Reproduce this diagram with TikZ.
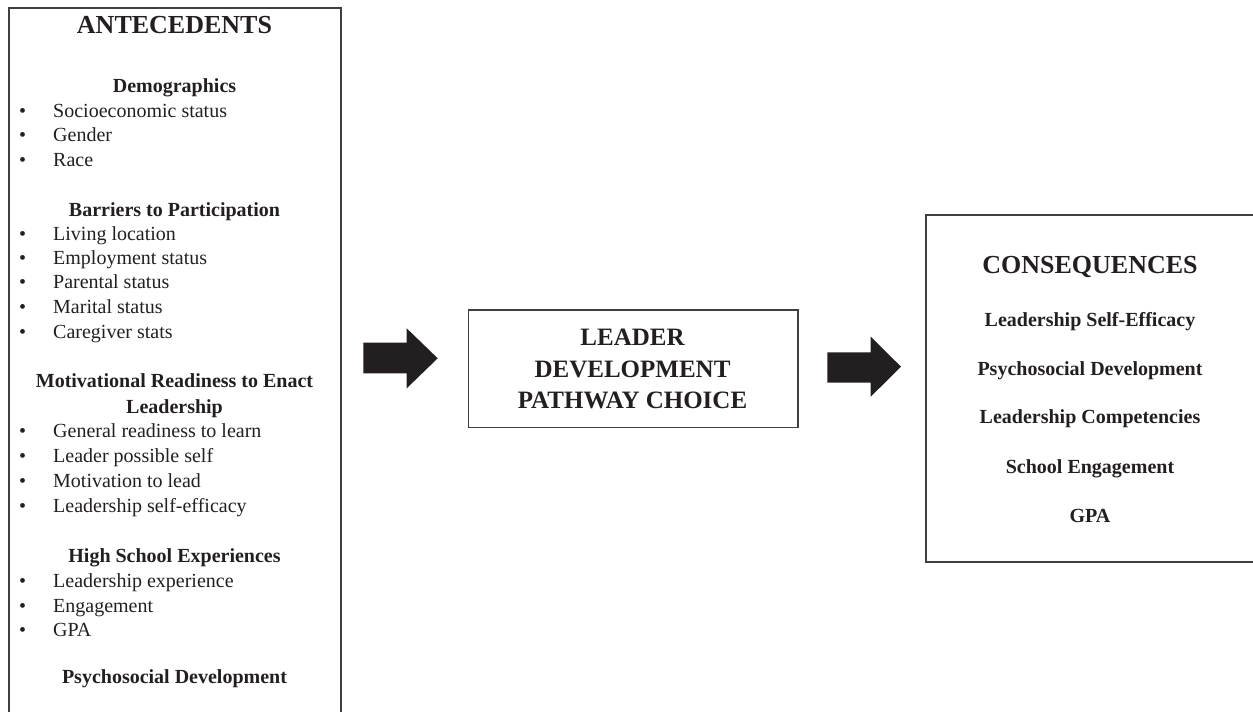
\documentclass[tikz,border=0pt]{standalone}
\usepackage{fontspec}
\setmainfont{Liberation Serif}
\definecolor{ink}{HTML}{231F20}
\definecolor{edge}{HTML}{404040}
\tikzset{
  box/.style={draw=edge, line width=1.6pt, rectangle, inner sep=0pt, anchor=north west},
  bigtitle/.style={font=\fontsize{26}{30}\selectfont\bfseries, text=ink, anchor=base, inner sep=0pt},
  midtitle/.style={font=\fontsize{25}{30}\selectfont\bfseries, text=ink, anchor=base, inner sep=0pt},
  subhead/.style={font=\fontsize{20}{24}\selectfont\bfseries, text=ink, anchor=base, inner sep=0pt},
  item/.style={font=\fontsize{20}{24}\selectfont, text=ink, anchor=base west, inner sep=0pt},
  bul/.style={font=\fontsize{20}{24}\selectfont, text=ink, anchor=base, inner sep=0pt},
  blockarrow/.style={fill=ink, draw=none},
}
\begin{document}
\begin{tikzpicture}[x=1pt, y=-1pt]
\useasboundingbox (0,0) rectangle (1253,712);
\clip (0,0) rectangle (1253,712);
% boxes
\node[box, minimum width=331.7pt, minimum height=760pt] (ante) at (8.3,7) {};
\node[box, minimum width=329.3pt, minimum height=117.7pt] (path) at (467.7,309) {};
\node[box, minimum width=330pt, minimum height=346.7pt] (cons) at (925,214.3) {};
% block arrows
\coordinate (a1) at (363.3,342.7);
\draw[blockarrow] (a1) -- (406.7,342.7) -- (406.7,328.3) -- (437.7,358.3) -- (406.7,388.3) -- (406.7,373.3) -- (363.3,373.3) -- cycle;
\coordinate (a2) at (827.3,352.3);
\draw[blockarrow] (a2) -- (870.7,352.3) -- (870.7,336.7) -- (901,366.7) -- (870.7,396.7) -- (870.7,382.7) -- (827.3,382.7) -- cycle;
% antecedents
\def\cx{174.5}
\node[bigtitle] (t1) at (\cx,33.3) {ANTECEDENTS};
\node[subhead] (h1) at (\cx,92) {Demographics};
\foreach \y/\t [count=\i] in {117/Socioeconomic status, 141/Gender, 166/Race}{
  \node[bul] (b1\i) at (22.7,\y) {•};
  \node[item] (i1\i) at (53,\y) {\t};
}
\node[subhead] (h2) at (\cx,216) {Barriers to Participation};
\foreach \y/\t [count=\i] in {240/Living location, 264/Employment status, 288.5/Parental status, 313/Marital status, 338/Caregiver stats}{
  \node[bul] (b2\i) at (22.7,\y) {•};
  \node[item] (i2\i) at (53,\y) {\t};
}
\node[subhead] (h3a) at (\cx,387.5) {Motivational Readiness to Enact};
\node[subhead] (h3b) at (\cx,413) {Leadership};
\foreach \y/\t [count=\i] in {437.5/General readiness to learn, 462.5/Leader possible self, 487/Motivation to lead, 512/Leadership self-efficacy}{
  \node[bul] (b3\i) at (22.7,\y) {•};
  \node[item] (i3\i) at (53,\y) {\t};
}
\node[subhead] (h4) at (\cx,562) {High School Experiences};
\foreach \y/\t [count=\i] in {587/Leadership experience, 612/Engagement, 636/GPA}{
  \node[bul] (b4\i) at (22.7,\y) {•};
  \node[item] (i4\i) at (53,\y) {\t};
}
\node[subhead] (h5) at (\cx,683) {Psychosocial Development};
% pathway
\node[midtitle] (m1) at (632.5,345) {LEADER};
\node[midtitle] (m2) at (632.5,377) {DEVELOPMENT};
\node[midtitle] (m3) at (632.5,408.5) {PATHWAY CHOICE};
% consequences
\node[bigtitle] (c0) at (1090,273) {CONSEQUENCES};
\node[subhead] (c1) at (1090,326) {Leadership Self-Efficacy};
\node[subhead] (c2) at (1090,375) {Psychosocial Development};
\node[subhead] (c3) at (1090,423.5) {Leadership Competencies};
\node[subhead] (c4) at (1090,473) {School Engagement};
\node[subhead] (c5) at (1090,522) {GPA};
\end{tikzpicture}
\end{document}
